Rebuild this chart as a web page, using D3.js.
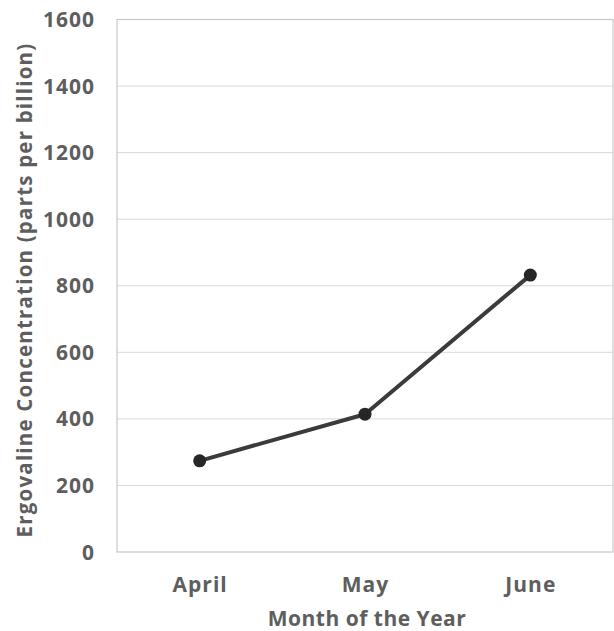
<!DOCTYPE html>
<html>
<head>
<meta charset="utf-8">
<script src="https://cdn.jsdelivr.net/npm/d3@7"></script>
<style>
  html, body { margin: 0; padding: 0; background: #fff; }
  svg { display: block; }
  text { font-family: "Open Sans", "Liberation Sans", Arial, sans-serif; font-weight: 700; fill: #5e5e5e; }
</style>
</head>
<body>
<svg id="chart" width="614" height="631"></svg>
<script>
// Ergovaline concentration by month
const months = ["April", "May", "June"];
const concentration = [274, 414, 832];
const yTicks = [0, 200, 400, 600, 800, 1000, 1200, 1400, 1600];

const svg = d3.select("#chart");
const margin = { left: 117, right: 1, top: 19.5, bottom: 79 };
const W = 614, H = 631;

const x = d3.scaleBand().domain(months)
  .range([margin.left, W - margin.right]).padding(0);
const y = d3.scaleLinear().domain([0, 1600])
  .range([H - margin.bottom, margin.top]);

// horizontal gridlines
svg.append("g").selectAll("line").data(yTicks.filter(d => d > 0)).join("line")
  .attr("x1", margin.left).attr("x2", W - margin.right)
  .attr("y1", d => y(d)).attr("y2", d => y(d))
  .attr("stroke", "#d9d9d9").attr("stroke-width", 1);

// plot frame
svg.append("rect")
  .attr("x", margin.left).attr("y", margin.top)
  .attr("width", W - margin.right - margin.left)
  .attr("height", y(0) - margin.top)
  .attr("fill", "none").attr("stroke", "#c8c8c8").attr("stroke-width", 1.2);

// y tick labels
svg.append("g").selectAll("text").data(yTicks).join("text")
  .attr("x", 95).attr("y", d => y(d)).attr("dy", "0.36em")
  .attr("text-anchor", "end").attr("font-size", 21)
  .attr("letter-spacing", 1)
  .text(d => d);

// x tick labels
svg.append("g").selectAll("text").data(months).join("text")
  .attr("x", d => x(d) + x.bandwidth() / 2 + 0.5).attr("y", 592)
  .attr("text-anchor", "middle").attr("font-size", 21)
  .attr("letter-spacing", 1)
  .text(d => d);

// axis titles
svg.append("text")
  .attr("x", (margin.left + W - margin.right) / 2 + 2).attr("y", 626)
  .attr("text-anchor", "middle").attr("font-size", 21)
  .attr("letter-spacing", 0.5)
  .text("Month of the Year");

svg.append("text")
  .attr("transform", `translate(32, 290) rotate(-90)`)
  .attr("text-anchor", "middle").attr("font-size", 20.5)
  .attr("letter-spacing", 1.2)
  .text("Ergovaline Concentration (parts per billion)");

// data line and markers
const pts = months.map((m, i) => ({ m, v: concentration[i] }));
const cx = d => x(d.m) + x.bandwidth() / 2;

svg.append("path").datum(pts)
  .attr("d", d3.line().x(cx).y(d => y(d.v)))
  .attr("fill", "none").attr("stroke", "#3b3b3b")
  .attr("stroke-width", 4).attr("stroke-linejoin", "round");

svg.append("g").selectAll("circle").data(pts).join("circle")
  .attr("cx", cx).attr("cy", d => y(d.v)).attr("r", 6.5)
  .attr("fill", "#262626");
</script>
</body>
</html>
